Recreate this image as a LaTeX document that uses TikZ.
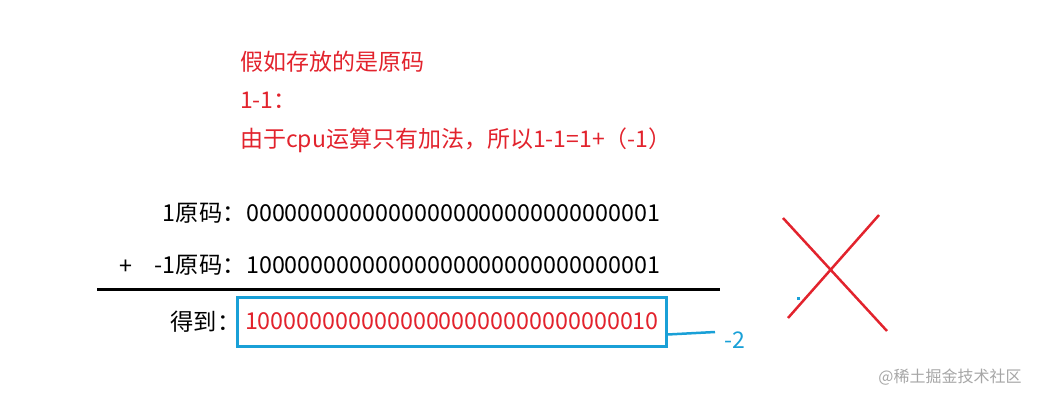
\documentclass[tikz,border=0pt]{standalone}
\usepackage{fontspec}
\setmainfont{Noto Sans CJK SC}
\usetikzlibrary{positioning}
\definecolor{notered}{RGB}{226,35,45}
\definecolor{boxblue}{RGB}{25,160,215}
\begin{document}
\begin{tikzpicture}[x=1pt,y=-1pt,
    note/.style={text=notered, font=\fontsize{23}{27}\selectfont, anchor=west, inner sep=0pt},
    row/.style={font=\fontsize{23.3}{27}\selectfont, inner sep=0pt},
    resbox/.style={draw=boxblue, line width=3pt, text=notered, font=\fontsize{23.3}{27}\selectfont,
                   text width=413pt, align=left, inner xsep=8pt, inner ysep=0pt,
                   minimum height=49pt},]
    \useasboundingbox (0,0) rectangle (1042,400);
    %Notes
    \node[note] (n1) at (240,62) {假如存放的是原码};
    \node[note] (n2) at (240,100) {1-1：};
    \node[note] (n3) at (240,140) {由于cpu运算只有加法，所以1-1=1+（-1）};
    %Rows
    \node[row, anchor=west] (bits1) at (246,213) {00000000000000000000000000000001};
    \node[row] (lab1) [left=0pt of bits1] {1原码：};
    \node[row, anchor=west] (bits2) at (246,265) {10000000000000000000000000000001};
    \node[row] (lab2) [left=0pt of bits2] {-1原码：};
    \node[row] (plus) at (126,267) {+};
    \node[resbox] (res) at (451.5,321.5) {10000000000000000000000000000010};
    \node[row] (lab3) [left=-5pt of res] {得到：};
    \node[text=boxblue, font=\fontsize{23}{27}\selectfont, inner sep=0pt] (minus2) at (735,340) {-2};
    \node[text=black!35, font=\fontsize{16}{19}\selectfont, inner sep=0pt] (mark) at (950,377) {@稀土掘金技术社区};
    % %Lines
    \coordinate (rule l) at (97,289);
    \coordinate (rule r) at (720,289);
    \draw[line width=3pt] (rule l) -- (rule r);
    \coordinate (tail) at (715,332);
    \draw[boxblue, line width=2.5pt] ([yshift=-13pt]res.east) -- (tail);
    \fill[boxblue] (797,297) rectangle (800,300);
    % cross
    \draw[notered, line width=2.5pt] (783,218) -- (887,331);
    \draw[notered, line width=2.5pt] (879,215) -- (788,318);
  \end{tikzpicture}
\end{document}
